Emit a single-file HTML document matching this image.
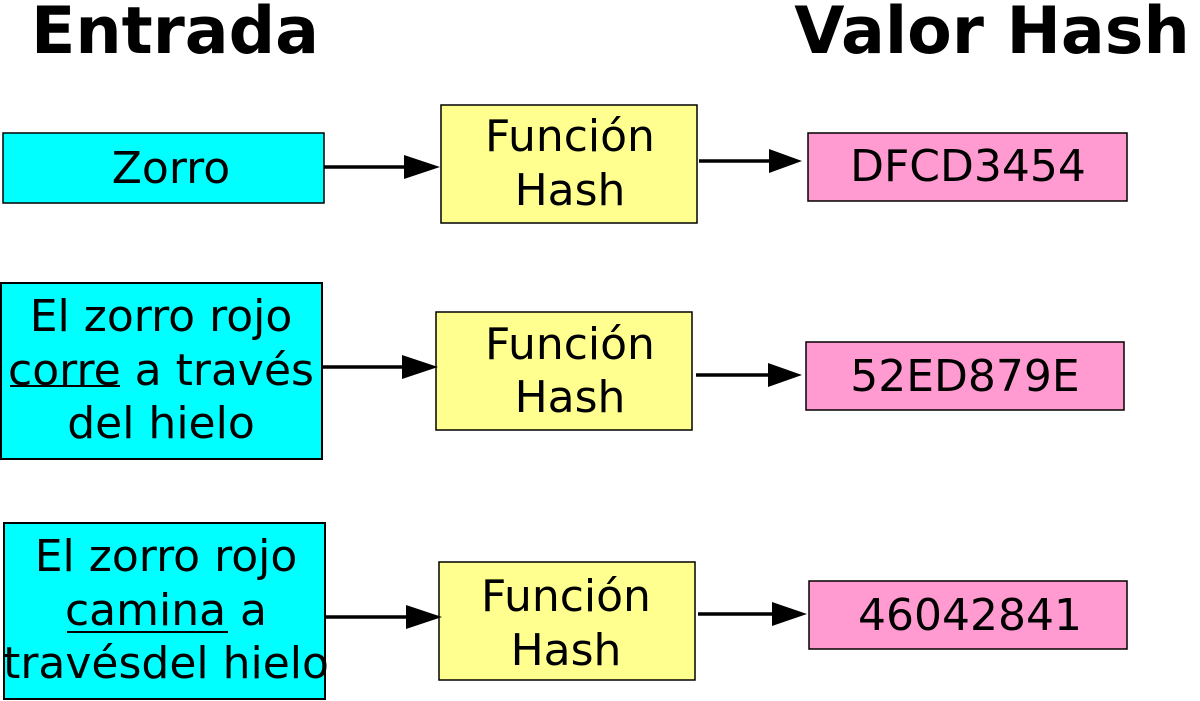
<!DOCTYPE html>
<html><head><style>html,body{margin:0;padding:0;background:#fff;}svg{display:block;}</style></head>
<body>
<svg width="1200" height="701" viewBox="0 0 1200 701" xmlns="http://www.w3.org/2000/svg" font-family="DejaVu Sans, Liberation Sans, sans-serif">
<text x="175" y="53" font-size="65" font-weight="bold" text-anchor="middle">Entrada</text>
<text x="992" y="53" font-size="65" font-weight="bold" text-anchor="middle">Valor Hash</text>
<g stroke="#000" stroke-width="2">
<rect x="3" y="133" width="321" height="70" fill="#00ffff" stroke-width="1.5"/>
<rect x="441" y="105" width="256" height="118" fill="#ffff8f" stroke-width="1.5"/>
<rect x="808" y="133" width="319" height="68" fill="#ff9bd0" stroke-width="1.5"/>
<rect x="1" y="283" width="321" height="176" fill="#00ffff"/>
<rect x="436" y="312" width="256" height="118" fill="#ffff8f" stroke-width="1.5"/>
<rect x="806" y="342" width="318" height="68" fill="#ff9bd0" stroke-width="1.5"/>
<rect x="4" y="523" width="321" height="176" fill="#00ffff"/>
<rect x="439" y="562" width="256" height="118" fill="#ffff8f" stroke-width="1.5"/>
<rect x="809" y="581" width="318" height="68" fill="#ff9bd0" stroke-width="1.5"/>
</g>
<g stroke="#000" stroke-width="3.5">
<line x1="324" y1="167" x2="410" y2="167"/>
<line x1="699" y1="161" x2="772" y2="161"/>
<line x1="322" y1="367" x2="408" y2="367"/>
<line x1="696" y1="375" x2="772" y2="375"/>
<line x1="326" y1="617" x2="412" y2="617"/>
<line x1="698" y1="614" x2="777" y2="614"/>
</g>
<g fill="#000">
<polygon points="404,155 440,167 404,179"/>
<polygon points="769,149 802,161 769,173"/>
<polygon points="402,355 438,367 402,379"/>
<polygon points="768,363 802,375 768,387"/>
<polygon points="406,605 442,617 406,629"/>
<polygon points="772,602 807,614 772,626"/>
</g>
<g font-size="44" text-anchor="middle">
<text x="171" y="183">Zorro</text>
<text x="570" y="151">Función</text>
<text x="570" y="205">Hash</text>
<text x="968" y="181">DFCD3454</text>
<text x="161" y="331">El zorro rojo</text>
<text x="161" y="385">corre a través</text>
<text x="161" y="438">del hielo</text>
<text x="570" y="359">Función</text>
<text x="570" y="412">Hash</text>
<text x="965" y="391">52ED879E</text>
<text x="166" y="571">El zorro rojo</text>
<text x="166" y="625">camina a</text>
<text x="166" y="678">travésdel hielo</text>
<text x="566" y="611">Función</text>
<text x="566" y="665">Hash</text>
<text x="970" y="630">46042841</text>
</g>
<line x1="10" y1="386" x2="120" y2="386" stroke="#000" stroke-width="2"/>
<line x1="67" y1="632" x2="228" y2="632" stroke="#000" stroke-width="2"/>
</svg>
</body></html>
